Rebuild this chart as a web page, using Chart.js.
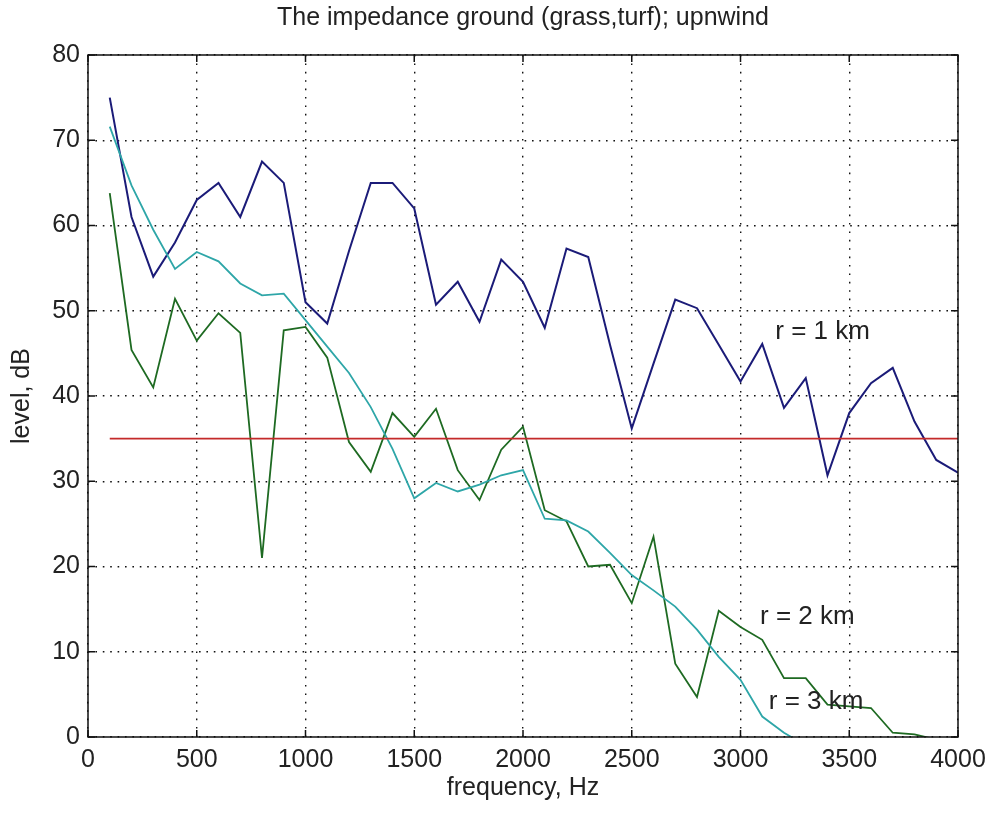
<!DOCTYPE html>
<html>
<head>
<meta charset="utf-8">
<title>The impedance ground (grass,turf); upnwind</title>
<script src="https://cdn.jsdelivr.net/npm/chart.js@4.4.1/dist/chart.umd.min.js"></script>
<style>
  html, body { margin: 0; padding: 0; background: #fff; }
  #chart { display: block; }
</style>
</head>
<body>
<canvas id="chart" width="989" height="813"></canvas>
<script>
// frequency grid, Hz
const freq = [100, 200, 300, 400, 500, 600, 700, 800, 900, 1000,
              1100, 1200, 1300, 1400, 1500, 1600, 1700, 1800, 1900, 2000,
              2100, 2200, 2300, 2400, 2500, 2600, 2700, 2800, 2900, 3000,
              3100, 3200, 3300, 3400, 3500, 3600, 3700, 3800, 3900, 4000];

// level, dB at r = 1 km
const level1km = [75, 61, 54, 58, 63, 65, 61, 67.5, 65, 51,
                  48.5, 57, 65, 65, 62, 50.7, 53.4, 48.7, 56, 53.4,
                  48, 57.3, 56.3, 46, 36.2, 43.8, 51.3, 50.3, 46, 41.7,
                  46.1, 38.6, 42.1, 30.7, 38, 41.5, 43.3, 37, 32.5, 31];

// level, dB at r = 2 km
const level2km = [63.8, 45.4, 41, 51.4, 46.5, 49.7, 47.4, 21, 47.7, 48.1,
                  44.5, 34.6, 31.1, 38, 35.2, 38.5, 31.3, 27.8, 33.7, 36.4,
                  26.6, 25.3, 20, 20.2, 15.7, 23.5, 8.6, 4.7, 14.8, 12.9,
                  11.4, 6.9, 6.9, 3.8, 3.6, 3.4, 0.5, 0.3, -0.3, -1.5];

// level, dB at r = 3 km (runs off the bottom of the axes past 3300 Hz)
const level3km = [71.6, 64.7, 59.5, 54.9, 56.9, 55.8, 53.2, 51.8, 52, 48.9,
                  45.8, 42.7, 38.7, 33.8, 28, 29.8, 28.8, 29.6, 30.7, 31.3,
                  25.6, 25.4, 24.1, 21.6, 19, 17.2, 15.3, 12.6, 9.4, 6.7,
                  2.4, 0.5, -1];

// threshold line
const thresholdFreq = [100, 4000];
const thresholdLevel = [35, 35];

// curve captions, in data units
const captionText = ['r = 1 km', 'r = 2 km', 'r = 3 km'];
const captionFreq = [3160, 3090, 3130];
const captionLevel = [47.5, 14.1, 4.1];

const FONT = '"Liberation Sans", Arial, sans-serif';
const toPoints = (xs, ys) => ys.map((v, i) => ({ x: xs[i], y: v }));

// box round the axes, inward tick marks and the curve captions
const frame = {
  id: 'frame',
  afterDatasetsDraw(chart) {
    const { ctx, chartArea: a, scales: { x, y } } = chart;
    const tl = 7;
    ctx.save();
    ctx.strokeStyle = '#111';
    ctx.lineWidth = 1.5;
    ctx.beginPath();
    x.ticks.forEach(t => {
      const px = x.getPixelForValue(t.value);
      ctx.moveTo(px, a.bottom); ctx.lineTo(px, a.bottom - tl);
      ctx.moveTo(px, a.top);    ctx.lineTo(px, a.top + tl);
    });
    y.ticks.forEach(t => {
      const py = y.getPixelForValue(t.value);
      ctx.moveTo(a.left, py);  ctx.lineTo(a.left + tl, py);
      ctx.moveTo(a.right, py); ctx.lineTo(a.right - tl, py);
    });
    ctx.stroke();
    ctx.strokeRect(a.left, a.top, a.right - a.left, a.bottom - a.top);

    ctx.fillStyle = '#222';
    ctx.font = '26px ' + FONT;
    ctx.textAlign = 'left';
    ctx.textBaseline = 'middle';
    captionText.forEach((txt, i) => {
      ctx.fillText(txt, x.getPixelForValue(captionFreq[i]), y.getPixelForValue(captionLevel[i]));
    });
    ctx.restore();
  }
};

const line = (label, data, color, width) => ({
  label, data,
  borderColor: color,
  borderWidth: width,
  pointRadius: 0,
  tension: 0,
  fill: false
});

new Chart(document.getElementById('chart'), {
  type: 'line',
  data: {
    datasets: [
      line('threshold', toPoints(thresholdFreq, thresholdLevel), '#c42a2a', 1.8),
      line('r = 3 km', toPoints(freq, level3km), '#2ea6a8', 1.8),
      line('r = 2 km', toPoints(freq, level2km), '#1e6a22', 1.8),
      line('r = 1 km', toPoints(freq, level1km), '#1b1b78', 2)
    ]
  },
  options: {
    responsive: false,
    animation: false,
    layout: { padding: { left: 0, right: 31, top: 0, bottom: 0 } },
    plugins: {
      legend: { display: false },
      tooltip: { enabled: false },
      title: {
        display: true,
        text: 'The impedance ground (grass,turf); upnwind',
        color: '#222',
        fullSize: false,
        font: { family: FONT, size: 25, weight: 'normal', lineHeight: 1.2 },
        padding: { top: 3, bottom: 22 }
      }
    },
    scales: {
      x: {
        type: 'linear',
        min: 0, max: 4000,
        // fixed axis band; the "4000" label may overhang into the page margin
        afterFit: s => { s.height = 76; s.paddingLeft = 0; s.paddingRight = 0; },
        ticks: { stepSize: 500, color: '#222', padding: 8, maxRotation: 0,
                 callback: v => String(v),
                 font: { family: FONT, size: 25 } },
        grid: { color: '#111', lineWidth: 1.4, drawTicks: false },
        border: { display: false, dash: [1.6, 6.8] },
        title: { display: true, text: 'frequency, Hz', color: '#222',
                 font: { family: FONT, size: 25 }, padding: { top: 0, bottom: 10 } }
      },
      y: {
        min: 0, max: 80,
        afterFit: s => { s.width = 88; },
        ticks: { stepSize: 10, color: '#222', padding: 8,
                 callback: v => String(v),
                 font: { family: FONT, size: 25 } },
        grid: { color: '#111', lineWidth: 1.4, drawTicks: false },
        border: { display: false, dash: [1.6, 5.8] },
        title: { display: true, text: 'level, dB', color: '#222',
                 font: { family: FONT, size: 25 }, padding: { top: 7, bottom: 0 } }
      }
    }
  },
  plugins: [frame]
});
</script>
</body>
</html>
